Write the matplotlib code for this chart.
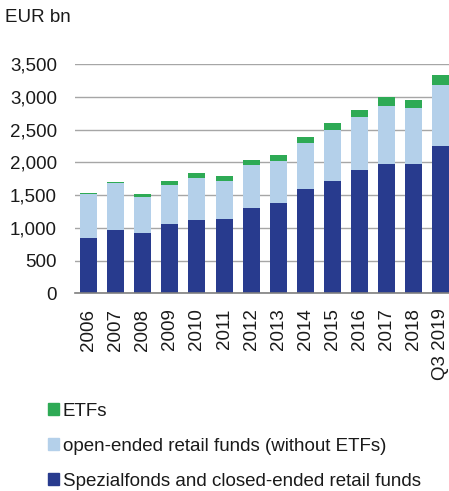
import matplotlib
matplotlib.use("Agg")
import matplotlib.pyplot as plt
from matplotlib.patches import Patch
import numpy as np

plt.rcParams['font.family'] = ['Liberation Sans', 'DejaVu Sans']

# values in EUR bn
years = ['2006', '2007', '2008', '2009', '2010', '2011', '2012',
         '2013', '2014', '2015', '2016', '2017', '2018', 'Q3 2019']
spezial = [841, 968, 927, 1055, 1121, 1131, 1309,
           1386, 1595, 1717, 1890, 1982, 1982, 2252]
open_ended = [672, 713, 551, 601, 647, 586, 658,
              637, 708, 780, 805, 886, 851, 932]
etfs = [15, 21, 35, 56, 66, 71, 71,
        86, 81, 107, 112, 138, 122, 148]

DARK = '#283b8e'
LIGHT = '#b4d0ea'
GREEN = '#2eaa55'
FS = 13.5

fig = plt.figure(figsize=(4.49, 4.91), dpi=100)
ax = fig.add_axes([75 / 449, 1 - 293.3 / 491, (454.4 - 75) / 449, 229 / 491])

x = np.arange(len(years))
w = 0.63
b1 = np.array(spezial)
b2 = b1 + np.array(open_ended)
ax.bar(x, spezial, w, color=DARK, zorder=3)
ax.bar(x, open_ended, w, bottom=b1, color=LIGHT, zorder=3)
ax.bar(x, etfs, w, bottom=b2, color=GREEN, zorder=3)

ax.set_xlim(-0.5, len(years) - 0.5)
ax.set_ylim(0, 3500)
ax.set_yticks(range(0, 3501, 500))
ax.set_yticklabels([f'{v:,}' for v in range(0, 3501, 500)])
ax.set_xticks(x)
ax.set_xticklabels(years, rotation=90)
ax.yaxis.grid(True, color='#a6a6a6', linewidth=1.0, zorder=0)
ax.tick_params(axis='both', length=0, labelsize=FS, colors='#1a1a1a')
ax.tick_params(axis='y', pad=13)
ax.tick_params(axis='x', pad=11)
for s in ['top', 'right', 'left']:
    ax.spines[s].set_visible(False)
ax.spines['bottom'].set_color('#7f7f7f')
ax.spines['bottom'].set_linewidth(1.2)
ax.spines['bottom'].set_zorder(4)

fig.text(5 / 449, 1 - 18 / 491, 'EUR bn', fontsize=FS, color='#1a1a1a', va='center')

handles = [Patch(color=GREEN), Patch(color=LIGHT), Patch(color=DARK)]
labels = ['ETFs', 'open-ended retail funds (without ETFs)',
          'Spezialfonds and closed-ended retail funds']
fig.legend(handles, labels, loc='upper left', bbox_to_anchor=(48 / 449, 1 - 403 / 491),
           frameon=False, fontsize=FS, handlelength=0.6, handleheight=0.6,
           handletextpad=0.2, labelspacing=0.95, borderaxespad=0, borderpad=0,
           labelcolor='#1a1a1a')

fig.savefig('out.png', dpi=100)
